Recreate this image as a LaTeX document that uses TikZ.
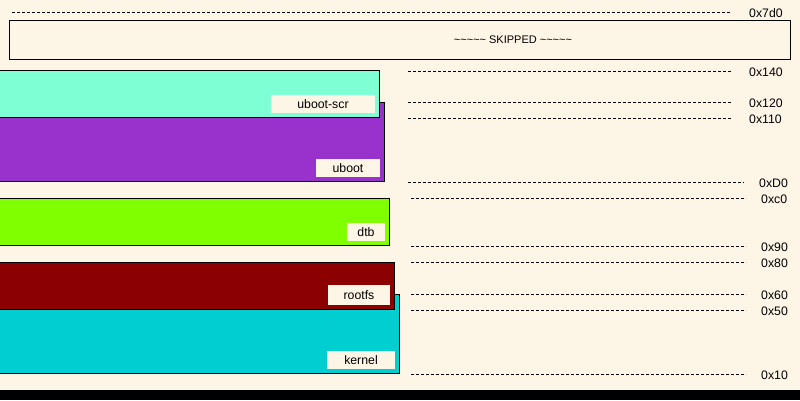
\documentclass[tikz,border=0pt]{standalone}
\usepackage{fontspec}
\setmainfont{Liberation Sans}
\definecolor{oldlace}{RGB}{253,245,230}
\definecolor{aquam}{RGB}{127,255,212}
\definecolor{dorchid}{RGB}{153,50,204}
\definecolor{chartr}{RGB}{127,255,0}
\definecolor{dred}{RGB}{139,0,0}
\definecolor{dturq}{RGB}{0,206,209}
\tikzset{
  region/.style={draw=black, line width=1pt},
  tag/.style={fill=oldlace, inner sep=0pt, font=\fontsize{12.3}{14}\selectfont, text=black, anchor=center},
  addr/.style={anchor=west, inner sep=0pt, font=\fontsize{12.3}{14}\selectfont, text=black},
  mark line/.style={draw=black, line width=0.8pt, dash pattern=on 3pt off 2pt},
}
\begin{document}
\begin{tikzpicture}[x=1pt,y=-1pt]
\useasboundingbox (0,0) rectangle (800,400);
\fill[oldlace] (0,0) rectangle (800,400);
\fill[black] (0,390) rectangle (800,400);

% top marker and skipped area
\draw[mark line] (12,12) -- (730,12);
\node[addr] (a7d0) at (749,13) {0x7d0};
\draw[line width=1pt] (9,20) rectangle (790,59);
\node[font=\fontsize{11}{13}\selectfont, inner sep=0pt] (skip) at (513,40) {\textasciitilde\textasciitilde\textasciitilde\textasciitilde\textasciitilde\ SKIPPED \textasciitilde\textasciitilde\textasciitilde\textasciitilde\textasciitilde};

% regions (lower first so upper overlap)
\draw[region, fill=dorchid] (-5,102) rectangle (384,181);
\draw[region, fill=aquam] (-5,70) rectangle (379,117);
\draw[region, fill=chartr] (-5,198) rectangle (389,245);
\draw[region, fill=dturq] (-5,294) rectangle (399,373);
\draw[region, fill=dred] (-5,262) rectangle (394,309);

% region labels
\node[tag, minimum width=104pt, minimum height=18pt] (lscr) at (323,104) {uboot-scr};
\node[tag, minimum width=64pt, minimum height=18pt] (lub) at (348,168) {uboot};
\node[tag, minimum width=38pt, minimum height=18pt] (ldtb) at (366,232) {dtb};
\node[tag, minimum width=62pt, minimum height=20pt] (lrfs) at (359,295) {rootfs};
\node[tag, minimum width=68pt, minimum height=18pt] (lker) at (361,360) {kernel};

% address markers
\draw[mark line] (408,71) -- (732,71);
\node[addr] (a140) at (749,72) {0x140};
\draw[mark line] (408,102) -- (732,102);
\node[addr] (a120) at (749,103) {0x120};
\draw[mark line] (408,118) -- (732,118);
\node[addr] (a110) at (749,119) {0x110};
\draw[mark line] (408,182) -- (744,182);
\node[addr] (ad0) at (759,183) {0xD0};
\draw[mark line] (411,198) -- (746,198);
\node[addr] (ac0) at (761,199) {0xc0};
\draw[mark line] (411,246) -- (746,246);
\node[addr] (a90) at (761,247) {0x90};
\draw[mark line] (411,262) -- (746,262);
\node[addr] (a80) at (761,263) {0x80};
\draw[mark line] (411,294) -- (746,294);
\node[addr] (a60) at (761,295) {0x60};
\draw[mark line] (411,310) -- (746,310);
\node[addr] (a50) at (761,311) {0x50};
\draw[mark line] (411,374) -- (746,374);
\node[addr] (a10) at (761,375) {0x10};
\end{tikzpicture}
\end{document}
